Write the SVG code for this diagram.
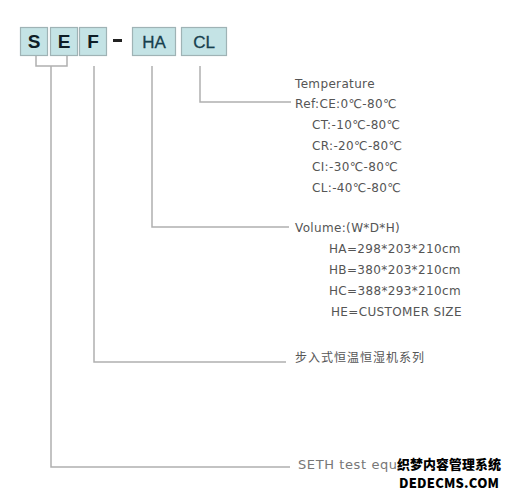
<svg xmlns="http://www.w3.org/2000/svg" width="507" height="492" viewBox="0 0 507 492">
<style>
.box{fill:#c4e3e5;stroke:#9fb3b5;stroke-width:1.2}
.bl{font-family:"Liberation Sans",Arial,sans-serif;font-size:19px;font-weight:bold;fill:#0e1d26;text-anchor:middle}
.tl{font-family:"Liberation Sans",Arial,sans-serif;font-size:17px;fill:#17404d;text-anchor:middle;stroke:#17404d;stroke-width:0.3}
.ln{fill:none;stroke:#b0b0b0;stroke-width:1.5}
.t{font-family:"DejaVu Sans",Verdana,sans-serif;font-size:12px;fill:#555;letter-spacing:0.35px}
.cn{font-family:"Noto Sans CJK SC","DejaVu Sans",sans-serif;font-size:12px;fill:#555;letter-spacing:1px}
.s{font-family:"DejaVu Sans",Verdana,sans-serif;font-size:13px;fill:#777;letter-spacing:0.6px}
.wm{font-family:"Noto Sans CJK SC",sans-serif;font-weight:900;fill:#000;stroke:#fff;stroke-width:2.5;paint-order:stroke}
</style>
<rect width="507" height="492" fill="#fff"/>
<g id="connectors">
<path class="ln" d="M36 55 V66 H67 V55"/>
<path class="ln" d="M51 66 V467 H290"/>
<path class="ln" d="M94 66 V362 H286"/>
<path class="ln" d="M152 66 V227 H289"/>
<path class="ln" d="M200 66 V102 H291"/>
</g>
<g id="node-S"><rect class="box" x="20.5" y="27.5" width="27" height="28"/><text class="bl" x="34" y="48">S</text></g>
<g id="node-E"><rect class="box" x="50.5" y="27.5" width="27" height="28"/><text class="bl" x="64" y="48">E</text></g>
<g id="node-F"><rect class="box" x="79.5" y="27.5" width="27" height="28"/><text class="bl" x="93" y="48">F</text></g>
<g id="dash"><rect x="113" y="39" width="9" height="3" fill="#222"/></g>
<g id="node-HA"><rect class="box" x="132.5" y="27.5" width="43" height="28"/><text class="tl" x="154" y="48">HA</text></g>
<g id="node-CL"><rect class="box" x="181.5" y="27.5" width="45" height="28"/><text class="tl" x="204" y="48">CL</text></g>
<g id="temperature">
<text class="t" x="295" y="88">Temperature</text>
<text class="t" x="295" y="108">Ref:CE:0℃-80℃</text>
<text class="t" x="312" y="129">CT:-10℃-80℃</text>
<text class="t" x="312" y="150">CR:-20℃-80℃</text>
<text class="t" x="312" y="171">CI:-30℃-80℃</text>
<text class="t" x="312" y="192">CL:-40℃-80℃</text>
</g>
<g id="volume">
<text class="t" x="295" y="232">Volume:(W*D*H)</text>
<text class="t" x="329" y="253">HA=298*203*210cm</text>
<text class="t" x="329" y="274">HB=380*203*210cm</text>
<text class="t" x="329" y="295">HC=388*293*210cm</text>
<text class="t" x="331" y="316">HE=CUSTOMER SIZE</text>
</g>
<g id="series"><text class="cn" x="295" y="362">步入式恒温恒湿机系列</text></g>
<g id="seth"><text class="s" x="298" y="469">SETH  test equi</text></g>
<g id="watermark">
<text class="wm" x="397" y="469" font-size="13px" textLength="104">织梦内容管理系统</text>
<text class="wm" x="399" y="488" font-size="13px" textLength="100" font-family="'DejaVu Sans Mono',monospace">DEDECMS.COM</text>
</g>
</svg>
